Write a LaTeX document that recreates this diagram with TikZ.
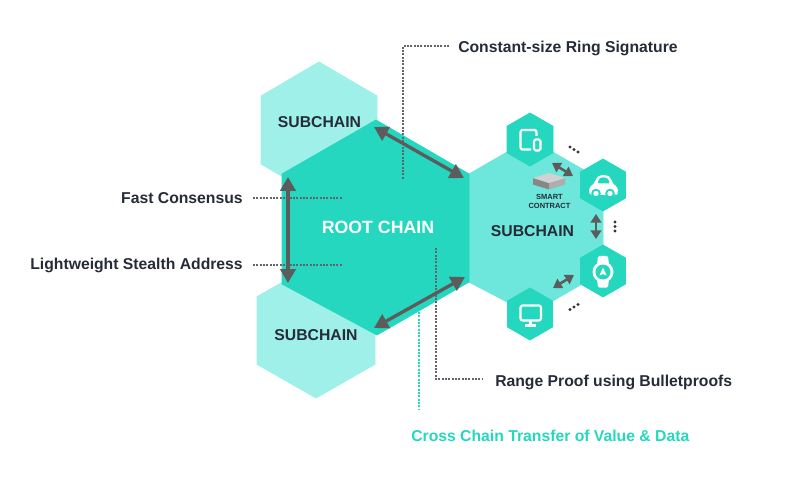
\documentclass[tikz,border=0pt]{standalone}
\usepackage{fontspec}
\setmainfont{Liberation Sans}
\usetikzlibrary{arrows.meta}
\definecolor{rootc}{HTML}{25D7BE}
\definecolor{subl}{HTML}{9EF0E8}
\definecolor{subm}{HTML}{6DE6DB}
\definecolor{inkc}{HTML}{262B38}
\definecolor{arrowc}{HTML}{5C5C5C}
\definecolor{dotc}{HTML}{63636B}
\tikzset{
  x=0.75pt,y=-0.75pt,
  hexfill/.style={line join=round,line width=0.6pt},
  lab/.style={font=\bfseries\fontsize{11.8}{13}\selectfont,text=inkc,inner sep=0pt},
  sublab/.style={font=\bfseries\fontsize{11.8}{13}\selectfont,text=inkc,inner sep=0pt},
  dotline/.style={dotc,line width=1.7pt,dash pattern=on 1.4pt off 1.1pt},
  bigarrow/.style={arrowc,line width=2.5pt,{Triangle[length=10.5pt,width=11.5pt]}-{Triangle[length=10.5pt,width=11.5pt]}},
  smallarrow/.style={arrowc,line width=1.9pt,{Triangle[length=6.5pt,width=8pt]}-{Triangle[length=6.5pt,width=8pt]}},
  icon/.style={white,line width=1.6pt,line join=round},
  tinydot/.style={fill=black!80,circle,inner sep=0pt,minimum size=2.3pt},
}
\newcommand{\hexa}[5]{% colour, cx, top y, half width, height
  \fill[#1,hexfill,draw=#1] (#2,#3) -- ({#2+#4},{#3+0.25*#5}) -- ({#2+#4},{#3+0.75*#5}) -- (#2,{#3+#5}) -- ({#2-#4},{#3+0.75*#5}) -- ({#2-#4},{#3+0.25*#5}) -- cycle;}
\begin{document}
\begin{tikzpicture}
\useasboundingbox (0,0) rectangle (800,481);
% subchain hexagons
\hexa{subl}{319}{62}{58}{136}
\hexa{subl}{316}{263}{59}{135}
\fill[subm,hexfill,draw=subm] (469,174) -- (530,139) -- (603,181) -- (603,272) -- (530,314) -- (469,282) -- cycle;
% root hexagon
\fill[rootc,hexfill,draw=rootc] (376,120) -- (469,174) -- (469,282) -- (377,335) -- (282,284) -- (282,174) -- cycle;
% small hexagons
\hexa{rootc}{530}{113}{23}{53}
\hexa{rootc}{603}{159}{22.5}{52}
\hexa{rootc}{603}{245}{22.5}{52}
\hexa{rootc}{530}{288}{22.5}{52}
% labels
\node[lab,anchor=base west] (ring) at (458,52.5) {Constant-size Ring Signature};
\node[lab,anchor=base east] (fast) at (243,203.7) {Fast Consensus};
\node[lab,anchor=base east] (stealth) at (243,269) {Lightweight Stealth Address};
\node[lab,anchor=base west] (range) at (495,386) {Range Proof using Bulletproofs};
\node[lab,anchor=base west,text=rootc] (cross) at (411,441) {Cross Chain Transfer of Value \& Data};
\node[sublab] (subtop) at (319.5,122) {SUBCHAIN};
\node[sublab] (subbot) at (316,335) {SUBCHAIN};
\node[sublab] (subright) at (532.5,231) {SUBCHAIN};
\node[inner sep=0pt,text=white,font=\bfseries\fontsize{13.3}{15}\selectfont] (root) at (378,227) {ROOT CHAIN};
\node[inner sep=0pt,align=center,text=inkc,font=\bfseries\fontsize{5.6}{7}\selectfont] (smart) at (549.5,201.5) {SMART\\CONTRACT};
% dotted leaders
\coordinate (ringend) at (403,179);
\coordinate (ringbend) at (403,46);
\coordinate (ringstart) at (449,46);
\coordinate (fastend) at (342,198);
\coordinate (faststart) at (253,198);
\coordinate (stealthend) at (342,265);
\coordinate (stealthstart) at (253,265);
\coordinate (rangeend) at (436,248);
\coordinate (rangebend) at (436,379);
\coordinate (rangestart) at (483,379);
\coordinate (crossend) at (419,312);
\coordinate (crossstart) at (419,410);
\draw[dotline] (ringstart) -- (ringbend) -- (ringend);
\draw[dotline] (faststart) -- (fastend);
\draw[dotline] (stealthstart) -- (stealthend);
\draw[dotline] (rangeend) -- (rangebend) -- (rangestart);
\draw[dotline,rootc] (crossend) -- (crossstart);
% big arrows
\coordinate (a1) at (288,177); \coordinate (a2) at (288,283);
\coordinate (b1) at (374,127); \coordinate (b2) at (464,178);
\coordinate (c1) at (465,277); \coordinate (c2) at (374,328);
\draw[bigarrow] (a1) -- (a2);
\draw[bigarrow] (b1) -- (b2);
\draw[bigarrow] (c1) -- (c2);
% small arrows
\coordinate (d1) at (552,163); \coordinate (d2) at (573,176);
\coordinate (e1) at (596,214); \coordinate (e2) at (596,239);
\coordinate (f1) at (574,275); \coordinate (f2) at (553,288);
\draw[smallarrow] (d1) -- (d2);
\draw[smallarrow] (e1) -- (e2);
\draw[smallarrow] (f1) -- (f2);
% ellipsis dots
\foreach \p in {(570,147),(574,149.5),(578,152),(615,222),(615,226.5),(615,231),(570,309.5),(574,307),(578,304.5)}
  \node[tinydot] at \p {};
% smart contract box
\fill[black!47] (533,178) -- (549,183) -- (549,189.5) -- (533,184.5) -- cycle;
\fill[black!32] (565,178) -- (549,183) -- (549,189.5) -- (565,184.5) -- cycle;
\fill[black!18] (533,178) -- (549,173) -- (565,178) -- (549,183) -- cycle;
% tablet icon
\draw[icon,rounded corners=1.5pt] (531,149.5) -- (520.5,149.5) -- (520.5,130) -- (536.5,130) -- (536.5,136);
\draw[icon,rounded corners=1.2pt] (534,139.5) rectangle (540.5,150.5);
% car icon
\fill[white,rounded corners=2.5pt] (589,195) -- (589,187) -- (594,184.5) -- (596,178) -- (600,175) -- (607,175) -- (611,178) -- (613,184.5) -- (618,187) -- (618,193) -- (616,195) -- cycle;
\fill[rootc,rounded corners=1pt] (597.5,183.5) -- (599,179) -- (601,177.5) -- (606,177.5) -- (608,179) -- (610,183.5) -- cycle;
\fill[rootc] (596,193.5) circle (4.8);
\fill[rootc] (610,193.5) circle (4.8);
\fill[white] (596,193.5) circle (2.7);
\fill[white] (610,193.5) circle (2.7);
% watch icon
\fill[white,rounded corners=1pt] (597,265) -- (598,256) -- (608,256) -- (609,265) -- cycle;
\fill[white,rounded corners=1pt] (597,279) -- (598,287.5) -- (608,287.5) -- (609,279) -- cycle;
\fill[white] (603,272) circle (10.5);
\fill[rootc] (603,272) circle (7.5);
\fill[white] (603,267.5) -- (606.5,275.5) -- (603,274) -- (599.5,275.5) -- cycle;
% monitor icon
\draw[icon,rounded corners=1.5pt] (520.5,305.5) rectangle (541,320.5);
\draw[icon] (530.5,320.5) -- (530.5,325.5);
\draw[icon] (525,325.5) -- (536,325.5);
\end{tikzpicture}
\end{document}
